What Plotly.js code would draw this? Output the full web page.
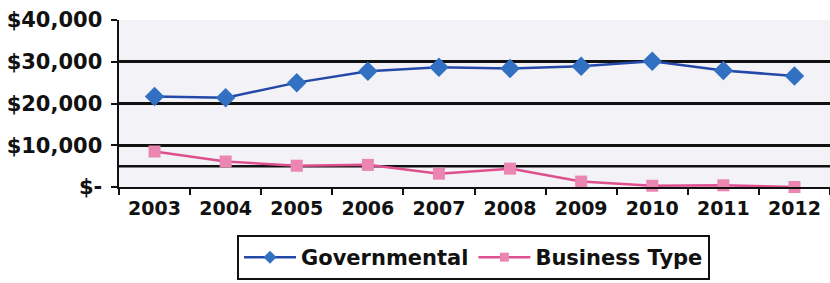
<!DOCTYPE html>
<html>
<head>
<meta charset="utf-8">
<script src="https://cdn.plot.ly/plotly-3.0.1.min.js"></script>
<style>
html,body{margin:0;padding:0;overflow:hidden;background:#fff;width:830px;height:283px;}
#chart{width:830px;height:283px;}
</style>
</head>
<body>
<div id="chart"></div>
<script>
const years = ['2003','2004','2005','2006','2007','2008','2009','2010','2011','2012'];
const governmental = [21700, 21400, 25000, 27700, 28700, 28400, 28900, 30100, 27900, 26600];
const businessType = [8500, 6100, 5100, 5300, 3200, 4400, 1300, 300, 400, 0];
const yTickVals = [0, 10000, 20000, 30000, 40000];
const yTickText = ['$-', '$10,000', '$20,000', '$30,000', '$40,000'];

const govColor = {line: '#2448a8', marker: '#3270c2'};
const busColor = {line: '#de4f8e', marker: '#eb86b2'};

const traces = [
  {
    x: years, y: governmental, name: 'Governmental', type: 'scatter', mode: 'lines+markers',
    line: {color: govColor.line, width: 2.5},
    marker: {symbol: 'diamond', size: 15, color: govColor.marker},
    cliponaxis: false, showlegend: false
  },
  {
    x: years, y: businessType, name: 'Business Type', type: 'scatter', mode: 'lines+markers',
    line: {color: busColor.line, width: 2.5},
    marker: {symbol: 'square', size: 12, color: busColor.marker},
    cliponaxis: false, showlegend: false
  },
  {
    x: [null], y: [null], name: 'Governmental', type: 'scatter', mode: 'lines+markers',
    line: {color: govColor.line, width: 2.5},
    marker: {symbol: 'diamond', size: 10, color: govColor.marker}
  },
  {
    x: [null], y: [null], name: 'Business Type', type: 'scatter', mode: 'lines+markers',
    line: {color: busColor.line, width: 2.5},
    marker: {symbol: 'square', size: 9, color: busColor.marker}
  }
];

const layout = {
  width: 830, height: 283,
  margin: {l: 119, r: 0, t: 20, b: 96},
  paper_bgcolor: '#ffffff',
  plot_bgcolor: '#f3f2f7',
  showlegend: true,
  legend: {
    orientation: 'h',
    xref: 'container', yref: 'container',
    x: 237/830, xanchor: 'left', y: 1 - 235/283, yanchor: 'top',
    bordercolor: '#111', borderwidth: 2, bgcolor: '#ffffff',
    font: {family: 'DejaVu Sans', size: 21, color: '#111', weight: 'bold'},
    itemwidth: 52, tracegroupgap: 0
  },
  xaxis: {
    type: 'category', range: [-0.5, 9.5],
    showgrid: false, zeroline: false,
    showline: true, linecolor: '#111', linewidth: 2,
    ticks: 'outside', tickson: 'boundaries', ticklen: 6, tickwidth: 2, tickcolor: '#111',
    ticklabelstandoff: 3,
    tickfont: {family: 'DejaVu Sans', size: 19, color: '#111', weight: 'bold'}
  },
  yaxis: {
    range: [0, 40000], tickvals: yTickVals, ticktext: yTickText,
    showgrid: true, gridcolor: '#111', gridwidth: 3,
    zeroline: false, showline: true, linecolor: '#111', linewidth: 2.5,
    ticks: 'outside', ticklen: 6, tickwidth: 2, tickcolor: '#111',
    ticklabelstandoff: 4,
    tickfont: {family: 'DejaVu Sans', size: 21, color: '#111', weight: 'bold'}
  },
  shapes: [
    {type: 'line', xref: 'paper', yref: 'y', x0: 0, x1: 1, y0: 5000, y1: 5000,
     line: {color: '#111', width: 2.5}, layer: 'below'}
  ]
};

Plotly.newPlot('chart', traces, layout, {displayModeBar: false, staticPlot: true});
</script>
</body>
</html>
